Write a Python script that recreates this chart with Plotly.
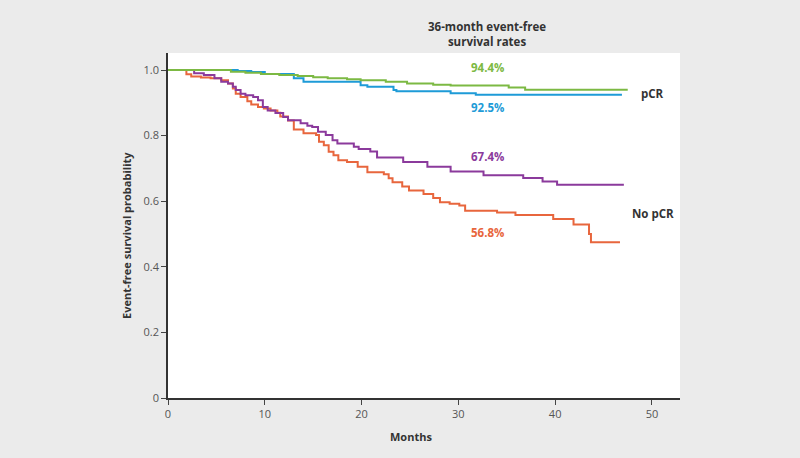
import plotly.graph_objects as go

# ---- data (months, event-free survival probability) ----
pcr_a_t = [0, 6.5, 8.0, 9.6, 11.5, 13.4, 15.0, 16.5, 18.5, 19.9, 22.5, 24.7, 27.4, 29.2, 35.2, 36.9, 47.5]
pcr_a_s = [1.0, 0.995, 0.992, 0.988, 0.985, 0.982, 0.978, 0.975, 0.972, 0.969, 0.964, 0.959, 0.955, 0.953, 0.947, 0.940, 0.940]

pcr_b_t = [0, 7.2, 8.6, 10.0, 13.0, 14.0, 19.9, 20.6, 23.3, 23.6, 29.2, 31.8, 46.9]
pcr_b_s = [1.0, 0.997, 0.994, 0.988, 0.975, 0.964, 0.954, 0.949, 0.939, 0.935, 0.929, 0.925, 0.925]

nopcr_a_t = [0, 2.7, 3.7, 4.8, 5.5, 6.2, 6.7, 7.0, 7.5, 8.0, 8.8, 9.3, 9.8, 10.3, 11.1, 11.9, 12.4,
             13.7, 14.4, 14.9, 15.5, 16.3, 17.0, 17.5, 19.2, 19.7, 20.9, 21.6, 24.3, 26.8, 29.2,
             32.6, 36.7, 38.7, 40.2, 47.1]
nopcr_a_s = [1.0, 0.990, 0.985, 0.975, 0.964, 0.959, 0.949, 0.939, 0.928, 0.923, 0.918, 0.908, 0.887,
             0.877, 0.869, 0.857, 0.847, 0.838, 0.830, 0.826, 0.812, 0.802, 0.786, 0.776, 0.766, 0.759,
             0.752, 0.733, 0.720, 0.705, 0.691, 0.679, 0.671, 0.660, 0.650, 0.650]

nopcr_b_t = [0, 1.9, 2.4, 3.4, 4.4, 5.5, 6.2, 6.7, 7.0, 7.5, 8.2, 8.6, 9.3, 9.9, 10.6, 11.3, 11.6,
             12.4, 13.0, 14.0, 15.3, 15.6, 16.1, 16.6, 17.1, 17.6, 18.5, 19.6, 20.6, 22.3, 22.8,
             23.2, 24.2, 24.9, 26.4, 27.4, 28.1, 29.1, 30.1, 30.7, 34.0, 35.9, 39.8, 41.9, 43.5,
             43.7, 46.7]
nopcr_b_s = [1.0, 0.987, 0.980, 0.977, 0.975, 0.969, 0.959, 0.944, 0.928, 0.918, 0.905, 0.895, 0.887,
             0.883, 0.877, 0.870, 0.858, 0.846, 0.819, 0.807, 0.802, 0.781, 0.771, 0.751, 0.740,
             0.725, 0.720, 0.705, 0.688, 0.682, 0.670, 0.658, 0.645, 0.633, 0.622, 0.610, 0.597,
             0.592, 0.587, 0.571, 0.566, 0.558, 0.546, 0.529, 0.500, 0.475, 0.475]

x_ticks = [0, 10, 20, 30, 40, 50]
y_ticks = [0, 0.2, 0.4, 0.6, 0.8, 1.0]
y_tick_text = ["0", "0.2", "0.4", "0.6", "0.8", "1.0"]

rate_labels = ["94.4%", "92.5%", "67.4%", "56.8%"]

GREEN = "#7cb943"
BLUE = "#1e9bd7"
PURPLE = "#8b3a9c"
ORANGE = "#e8663d"
FONT = "Open Sans"
DARK = "#333333"

fig = go.Figure()
for t, s, c in [(nopcr_b_t, nopcr_b_s, ORANGE), (nopcr_a_t, nopcr_a_s, PURPLE),
                (pcr_b_t, pcr_b_s, BLUE), (pcr_a_t, pcr_a_s, GREEN)]:
    fig.add_trace(go.Scatter(x=t, y=s, mode="lines", line=dict(color=c, width=2, shape="hv"),
                             showlegend=False, hoverinfo="skip"))

ann = []
inside = [
    (33.0, 1.009, f"<b>{rate_labels[0]}</b>", GREEN),
    (33.0, 0.887, f"<b>{rate_labels[1]}</b>", BLUE),
    (33.0, 0.736, f"<b>{rate_labels[2]}</b>", PURPLE),
    (33.0, 0.506, f"<b>{rate_labels[3]}</b>", ORANGE),
    (50.1, 0.929, "<b>pCR</b>", DARK),
    (50.1, 0.564, "<b>No pCR</b>", DARK),
]
for x, y, txt, col in inside:
    ann.append(dict(x=x, y=y, xref="x", yref="y", text=txt, showarrow=False,
                    xanchor="center", yanchor="middle", font=dict(color=col, size=11.5)))

ann.append(dict(x=0.623, y=1.0565, xref="paper", yref="paper", showarrow=False,
                text="<b>36-month event-free<br>survival rates</b>", xanchor="center", yanchor="middle",
                font=dict(color=DARK, size=11.5)))
ann.append(dict(x=0.4746, y=-0.113, xref="paper", yref="paper", showarrow=False,
                text="<b>Months</b>", xanchor="center", yanchor="middle",
                font=dict(color=DARK, size=11)))
ann.append(dict(x=-0.080, y=0.47, xref="paper", yref="paper", showarrow=False, textangle=-90,
                text="<b>Event-free survival probability</b>", xanchor="center", yanchor="middle",
                font=dict(color=DARK, size=11)))

fig.update_layout(
    width=800, height=458,
    margin=dict(l=168, r=120, t=53, b=60),
    paper_bgcolor="#ebebeb", plot_bgcolor="#ffffff",
    font=dict(family=FONT, color="#555555", size=11),
    annotations=ann,
)
fig.update_xaxes(range=[0, 52.9], tickvals=x_ticks, ticks="outside", ticklen=5, tickwidth=1.3,
                 tickcolor="#444444", showline=True, linecolor="#333333", linewidth=1.5,
                 showgrid=False, zeroline=False, tickfont=dict(size=11, color="#555555"))
fig.update_yaxes(range=[0, 1.052], tickvals=y_ticks, ticktext=y_tick_text, ticks="outside",
                 ticklen=5, tickwidth=1.3, tickcolor="#444444", showline=True,
                 linecolor="#333333", linewidth=1.5, showgrid=False, zeroline=False,
                 tickfont=dict(size=11, color="#555555"))

fig.write_html("out.html", config={"displayModeBar": False})

# remove default page margin so the figure sits at the window origin
with open("out.html", "r", encoding="utf-8") as f:
    html = f.read()
html = html.replace("<head>", "<head><style>html,body{margin:0;padding:0;overflow:hidden;}</style>", 1)
with open("out.html", "w", encoding="utf-8") as f:
    f.write(html)
